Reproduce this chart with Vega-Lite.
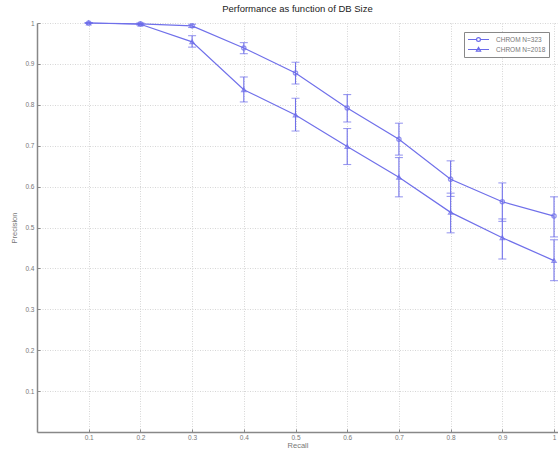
{
  "$schema": "https://vega.github.io/schema/vega-lite/v6.json",
  "autosize": {"type": "none"},
  "padding": {"left": 37, "top": 23, "right": 0, "bottom": 21},
  "width": 521,
  "height": 409,
  "background": "white",
  "title": {"text": "Performance as function of DB Size", "fontSize": 9.5, "fontWeight": "normal", "font": "Liberation Sans", "color": "#222", "offset": 5, "anchor": "middle"},
  "data": {"values": [
    {"recall": 0.1, "precision": 1.0, "lo": 1.0, "hi": 1.0, "series": "CHROM N=323"},
    {"recall": 0.2, "precision": 0.998, "lo": 0.996, "hi": 1.0, "series": "CHROM N=323"},
    {"recall": 0.3, "precision": 0.993, "lo": 0.989, "hi": 0.997, "series": "CHROM N=323"},
    {"recall": 0.4, "precision": 0.939, "lo": 0.925, "hi": 0.952, "series": "CHROM N=323"},
    {"recall": 0.5, "precision": 0.878, "lo": 0.851, "hi": 0.904, "series": "CHROM N=323"},
    {"recall": 0.6, "precision": 0.792, "lo": 0.758, "hi": 0.825, "series": "CHROM N=323"},
    {"recall": 0.7, "precision": 0.716, "lo": 0.677, "hi": 0.755, "series": "CHROM N=323"},
    {"recall": 0.8, "precision": 0.618, "lo": 0.576, "hi": 0.663, "series": "CHROM N=323"},
    {"recall": 0.9, "precision": 0.563, "lo": 0.515, "hi": 0.609, "series": "CHROM N=323"},
    {"recall": 1.0, "precision": 0.528, "lo": 0.477, "hi": 0.575, "series": "CHROM N=323"},
    {"recall": 0.1, "precision": 1.0, "lo": 1.0, "hi": 1.0, "series": "CHROM N=2018"},
    {"recall": 0.2, "precision": 0.997, "lo": 0.995, "hi": 0.999, "series": "CHROM N=2018"},
    {"recall": 0.3, "precision": 0.954, "lo": 0.941, "hi": 0.969, "series": "CHROM N=2018"},
    {"recall": 0.4, "precision": 0.837, "lo": 0.807, "hi": 0.868, "series": "CHROM N=2018"},
    {"recall": 0.5, "precision": 0.775, "lo": 0.736, "hi": 0.816, "series": "CHROM N=2018"},
    {"recall": 0.6, "precision": 0.698, "lo": 0.654, "hi": 0.742, "series": "CHROM N=2018"},
    {"recall": 0.7, "precision": 0.623, "lo": 0.575, "hi": 0.671, "series": "CHROM N=2018"},
    {"recall": 0.8, "precision": 0.537, "lo": 0.487, "hi": 0.584, "series": "CHROM N=2018"},
    {"recall": 0.9, "precision": 0.475, "lo": 0.423, "hi": 0.521, "series": "CHROM N=2018"},
    {"recall": 1.0, "precision": 0.419, "lo": 0.370, "hi": 0.470, "series": "CHROM N=2018"}
  ]},
  "encoding": {
    "x": {"field": "recall", "type": "quantitative", "scale": {"domain": [0, 1.0077], "nice": false, "zero": false},
      "axis": {"title": "Recall", "values": [0.1, 0.2, 0.3, 0.4, 0.5, 0.6, 0.7, 0.8, 0.9, 1], "format": "~g", "grid": true, "gridDash": [1, 1.5], "gridColor": "#d6d6d6",
        "domainColor": "#888", "domainWidth": 1.5, "tickColor": "#888", "tickSize": -3, "labelPadding": 5, "labelFontSize": 6.5, "labelColor": "#777", "labelFont": "Liberation Sans",
        "titleFontSize": 7.5, "titleFontWeight": "normal", "titleColor": "#777", "titleFont": "Liberation Sans", "titlePadding": 1}},
    "y": {"field": "precision", "type": "quantitative", "scale": {"domain": [0, 1], "nice": false},
      "axis": {"title": "Precision", "values": [0.1, 0.2, 0.3, 0.4, 0.5, 0.6, 0.7, 0.8, 0.9, 1], "format": "~g", "grid": true, "gridDash": [1, 1.5], "gridColor": "#d6d6d6",
        "domainColor": "#888", "domainWidth": 1.5, "tickColor": "#888", "tickSize": -3, "labelPadding": 6, "labelFontSize": 6.5, "labelColor": "#777", "labelFont": "Liberation Sans",
        "titleFontSize": 7.5, "titleFontWeight": "normal", "titleColor": "#777", "titleFont": "Liberation Sans", "titlePadding": 6}}
  },
  "layer": [
    {"mark": {"type": "line", "color": "#7070ea", "strokeWidth": 1.2}, "encoding": {"detail": {"field": "series"}}},
    {"mark": {"type": "rule", "color": "#7070ea", "strokeWidth": 1.1}, "encoding": {"y": {"field": "lo", "type": "quantitative"}, "y2": {"field": "hi"}}},
    {"mark": {"type": "tick", "orient": "horizontal", "color": "#7070ea", "size": 8, "thickness": 1.1}, "encoding": {"y": {"field": "lo", "type": "quantitative"}}},
    {"mark": {"type": "tick", "orient": "horizontal", "color": "#7070ea", "size": 8, "thickness": 1.1}, "encoding": {"y": {"field": "hi", "type": "quantitative"}}},
    {"mark": {"type": "point", "color": "#6a6aea", "filled": false, "size": 18, "strokeWidth": 1.3},
      "encoding": {"shape": {"field": "series", "type": "nominal", "scale": {"domain": ["CHROM N=323", "CHROM N=2018"], "range": ["circle", "triangle-up"]}, "legend": null}}},
    {"mark": {"type": "point", "color": "#6a6aea", "filled": false, "opacity": 0, "size": 18},
      "encoding": {"shape": {"field": "series", "type": "nominal", "title": null,
        "scale": {"domain": ["CHROM N=323", "CHROM N=2018"], "range": ["M-3,0L-0.55,0M0.55,0L3,0M0.55,0A0.55,0.55 0 1 1 -0.55,0A0.55,0.55 0 1 1 0.55,0", "M-3,0L3,0M0,-0.6L0.6,0.45L-0.6,0.45Z"]},
        "legend": {"orient": "top-right", "offset": 9, "symbolSize": 49, "symbolStrokeColor": "#6a6aea", "symbolFillColor": "transparent", "symbolStrokeWidth": 1.2, "symbolOpacity": 1, "symbolOffset": 7,
          "labelFontSize": 6.5, "labelColor": "#777", "labelFont": "Liberation Sans", "strokeColor": "#888", "fillColor": "white", "padding": 3, "rowPadding": 1, "labelOffset": 13}}}}
  ],
  "resolve": {"scale": {"shape": "independent"}},
  "config": {"view": {"stroke": null}}
}
